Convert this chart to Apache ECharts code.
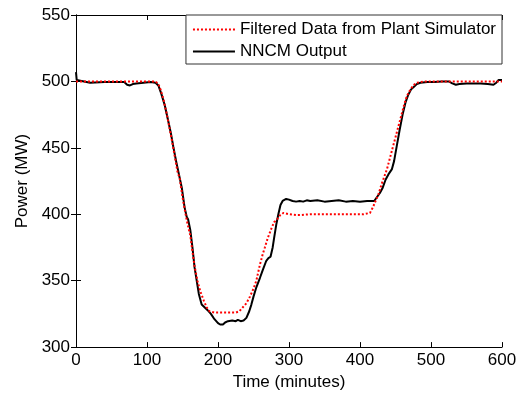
<!DOCTYPE html>
<html>
<head>
<meta charset="utf-8">
<script src="https://cdn.jsdelivr.net/npm/echarts@6/dist/echarts.min.js"></script>
<style>html,body{margin:0;padding:0;background:#fff;}#c{width:522px;height:396px;}</style>
</head>
<body>
<div id="c"></div>
<script>
const seriesNames = ["Filtered Data from Plant Simulator", "NNCM Output"];
const xTicks = [0, 100, 200, 300, 400, 500, 600];
const yTicks = [300, 350, 400, 450, 500, 550];

const filteredTime = [0,20,40,60,80,100,112,116,119,123,128,132,136,139,143,146,150,154,157,161,164,167,171,175,180,184,188,195,205,215,225,230,235,240,245,250,254,259,263,266,270,275,279,283,287,292,300,310,318,330,350,370,390,405,414,418,422,426,430,434,438,442,446,450,454,458,462,466,470,475,480,490,510,550,600];
const filteredPower = [500,500,500,500,500,500,500,498,494,487,475,464,453,444,432,427,413,401,393,384,372,361,350,342,335,330,327,326,326,326,326,327,330,333,338,344,350,362,370,375,382,389,394,396,399,401,400,399.5,399.5,400,400,400,400,400,401,405,410,415,422,428,434,442,450,458,466,474,482,489,493,497,499,500,500,500,500];

const nncmTime = [0,1,3,20,40,60,68,72,76,80,85,95,105,112,116,120,125,130,134,137,141,145,149,153,156,158,161,164,167,170,173,177,181,185,190,195,200,203,207,210,214,220,225,228,232,236,240,244,247,250,254,259,263,268,271,274,277,279,282,285,288,291,296,300,305,310,315,320,325,330,340,350,360,370,380,390,400,410,420,424,428,432,436,440,445,448,452,456,460,464,468,472,476,480,485,495,505,515,525,530,535,540,550,560,570,580,588,592,595,600];
const nncmPower = [507,501,499.5,499,499.5,499.5,499.5,497.5,497,498,498.5,499,499.5,499,497,491,482,470,460,451,440,430,420,405,398,396,388,375,360,350,340,332,330,328,325,321,318,317,317,318.5,319.5,320,319.5,320.5,319.5,320,322,327,332,338,345,352,358,365,367,368,375,382,392,400,407,410,411.5,411,410,409.5,410,409.5,410.5,410,410.5,409.5,410,410.5,409.5,410,409.5,410,410,413,416,420,426,430,434,440,452,464,475,484,490,494,496,498,499,499.5,499.5,500,500,498.5,497.5,498,498.5,498.5,498.5,498,497.5,499,501,501];

const toPairs = (xs, ys) => xs.map((x, i) => [x, ys[i]]);

const FONT = 'Liberation Sans, Arial, Helvetica, sans-serif';
const chart = echarts.init(document.getElementById('c'), null, {renderer: 'canvas'});

const baseAxis = {
  axisLine: {show: true, lineStyle: {color: '#000', width: 1}},
  axisTick: {show: true, inside: true, length: 5, lineStyle: {color: '#000'}},
  splitLine: {show: false}
};

chart.setOption({
  animation: false,
  backgroundColor: '#fff',
  grid: {left: 76, right: 20, top: 15, bottom: 46, containLabel: false},
  legend: {
    orient: 'vertical',
    right: 20,
    top: 15,
    padding: [6, 6, 4, 6],
    itemGap: 5,
    itemWidth: 42,
    itemHeight: 18,
    backgroundColor: '#fff',
    borderColor: '#333',
    borderWidth: 1,
    borderRadius: 0,
    itemStyle: {opacity: 0},
    textStyle: {fontFamily: FONT, fontSize: 17, color: '#000'},
    data: seriesNames
  },
  xAxis: [
    Object.assign({}, baseAxis, {
      type: 'value', min: xTicks[0], max: xTicks[xTicks.length - 1], interval: 100,
      name: 'Time (minutes)', nameLocation: 'middle', nameGap: 26,
      nameTextStyle: {fontFamily: FONT, fontSize: 17, color: '#000'},
      axisLabel: {fontFamily: FONT, fontSize: 17, color: '#000', margin: 5}
    }),
    Object.assign({}, baseAxis, {
      type: 'value', position: 'top', min: xTicks[0], max: xTicks[xTicks.length - 1], interval: 100,
      axisLabel: {show: false}
    })
  ],
  yAxis: [
    Object.assign({}, baseAxis, {
      type: 'value', min: yTicks[0], max: yTicks[yTicks.length - 1], interval: 50,
      name: 'Power (MW)', nameLocation: 'middle', nameGap: 41, nameRotate: 90,
      nameTextStyle: {fontFamily: FONT, fontSize: 17, color: '#000'},
      axisLabel: {fontFamily: FONT, fontSize: 17, color: '#000', margin: 6}
    }),
    Object.assign({}, baseAxis, {
      type: 'value', position: 'right', min: yTicks[0], max: yTicks[yTicks.length - 1], interval: 50,
      axisLabel: {show: false}
    })
  ],
  series: [
    {
      name: seriesNames[0], type: 'line', xAxisIndex: 0, yAxisIndex: 0,
      data: toPairs(filteredTime, filteredPower),
      symbol: 'none', smooth: false, z: 3,
      lineStyle: {color: '#ff0000', width: 2, type: [2, 2], cap: 'butt'},
      itemStyle: {color: '#ff0000'}
    },
    {
      name: seriesNames[1], type: 'line', xAxisIndex: 0, yAxisIndex: 0,
      data: toPairs(nncmTime, nncmPower),
      symbol: 'none', smooth: false, z: 2,
      lineStyle: {color: '#000', width: 2},
      itemStyle: {color: '#000'}
    }
  ]
});
</script>
</body>
</html>
